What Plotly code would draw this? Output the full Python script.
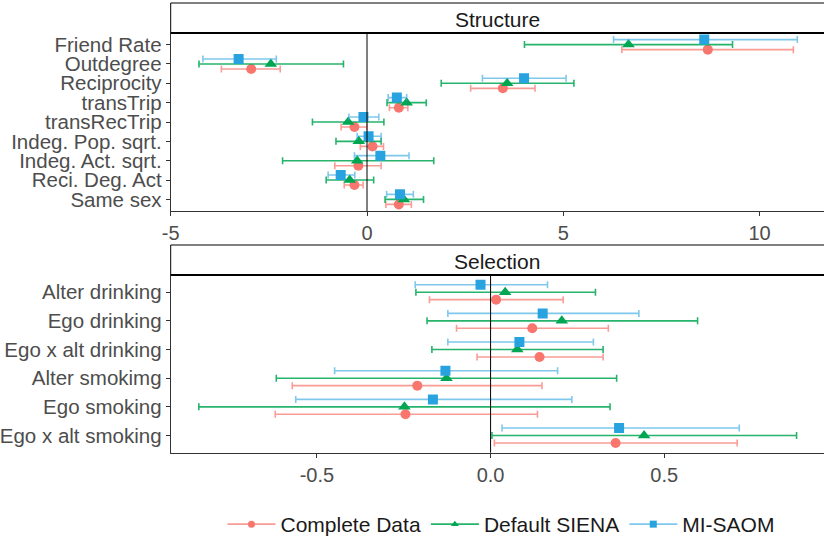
import plotly.graph_objects as go

# ---------------- data ----------------
series_names = ["Complete Data", "Default SIENA", "MI-SAOM"]

structure_cats = ["Friend Rate", "Outdegree", "Reciprocity", "transTrip", "transRecTrip",
                  "Indeg. Pop. sqrt.", "Indeg. Act. sqrt.", "Reci. Deg. Act", "Same sex"]
# Complete Data
s_complete_est = [8.68, -2.95, 3.46, 0.81, -0.32, 0.14, -0.22, -0.32, 0.81]
s_complete_lo = [6.49, -3.71, 2.64, 0.57, -0.66, -0.17, -0.82, -0.58, 0.48]
s_complete_hi = [10.86, -2.21, 4.28, 1.04, 0.00, 0.42, 0.36, -0.10, 1.13]
# Default SIENA
s_siena_est = [6.66, -2.45, 3.57, 1.01, -0.48, -0.21, -0.25, -0.44, 0.94]
s_siena_lo = [4.01, -4.28, 1.89, 0.51, -1.39, -0.79, -2.15, -1.04, 0.46]
s_siena_hi = [9.31, -0.60, 5.27, 1.51, 0.43, 0.36, 1.70, 0.17, 1.44]
# MI-SAOM
s_mi_est = [8.59, -3.27, 4.00, 0.76, -0.09, 0.04, 0.34, -0.67, 0.84]
s_mi_lo = [6.28, -4.18, 2.94, 0.54, -0.46, -0.25, -0.32, -0.99, 0.50]
s_mi_hi = [10.96, -2.31, 5.07, 1.01, 0.30, 0.36, 1.07, -0.31, 1.18]

selection_cats = ["Alter drinking", "Ego drinking", "Ego x alt drinking",
                  "Alter smokimg", "Ego smoking", "Ego x alt smoking"]
# Complete Data
b_complete_est = [0.016, 0.120, 0.141, -0.211, -0.245, 0.360]
b_complete_lo = [-0.176, -0.098, -0.039, -0.571, -0.620, 0.011]
b_complete_hi = [0.209, 0.339, 0.324, 0.148, 0.135, 0.710]
# Default SIENA
b_siena_est = [0.042, 0.205, 0.077, -0.127, -0.248, 0.442]
b_siena_lo = [-0.215, -0.183, -0.169, -0.617, -0.840, 0.004]
b_siena_hi = [0.302, 0.596, 0.324, 0.363, 0.344, 0.881]
# MI-SAOM
b_mi_est = [-0.029, 0.150, 0.083, -0.130, -0.166, 0.370]
b_mi_lo = [-0.217, -0.123, -0.123, -0.449, -0.561, 0.033]
b_mi_hi = [0.164, 0.427, 0.296, 0.193, 0.234, 0.716]

structure_ticks = [-5, 0, 5, 10]
selection_ticks = [-0.5, 0.0, 0.5]

# ---------------- style ----------------
marker_colors = ["#F8766D", "#00A651", "#29A3E0"]
bar_colors = ["rgba(248,118,109,0.72)", "rgba(0,166,81,0.85)", "rgba(41,163,224,0.6)"]
symbols = ["circle", "triangle-up", "square"]
offsets = [0.26, 0.0, -0.26]   # dodge: red bottom, green middle, blue top

W, H = 824, 545
def py(px):
    return 1 - px / H

x_left = 170.7 / W
top_dom = [py(211), py(33)]
bot_dom = [py(452.7), py(275)]

fig = go.Figure()

def add_panel(cats, ests, los, his, xa, ya):
    for k in range(3):
        est, lo, hi = ests[k], los[k], his[k]
        yv = [i + offsets[k] for i in range(len(cats))]
        fig.add_trace(go.Scatter(
            x=est, y=yv, mode="markers", xaxis=xa, yaxis=ya,
            showlegend=False,
            marker=dict(symbol=symbols[k], color=marker_colors[k], size=10 if k != 1 else 11),
            error_x=dict(type="data", symmetric=False,
                         array=[h - e for h, e in zip(hi, est)],
                         arrayminus=[e - l for e, l in zip(est, lo)],
                         color=bar_colors[k], thickness=1.6, width=3.5),
        ))

add_panel(structure_cats,
          [s_complete_est, s_siena_est, s_mi_est],
          [s_complete_lo, s_siena_lo, s_mi_lo],
          [s_complete_hi, s_siena_hi, s_mi_hi], "x", "y")
add_panel(selection_cats,
          [b_complete_est, b_siena_est, b_mi_est],
          [b_complete_lo, b_siena_lo, b_mi_lo],
          [b_complete_hi, b_siena_hi, b_mi_hi], "x2", "y2")

# legend entries (line + marker)
for k in range(3):
    fig.add_trace(go.Scatter(
        x=[None], y=[None], mode="lines+markers", name=series_names[k],
        line=dict(color=bar_colors[k], width=1.6),
        marker=dict(symbol=symbols[k], color=marker_colors[k], size=7),
    ))

tickfont = dict(family="Liberation Sans, Arial, sans-serif", size=20.5, color="#4D4D4D")
xtickfont = dict(family="Liberation Sans, Arial, sans-serif", size=20, color="#4D4D4D")
axis_common = dict(showgrid=False, zeroline=False, showline=True, linecolor="#333333",
                   linewidth=1, ticks="outside", ticklen=4, tickcolor="#333333",
                   automargin=False)

fig.update_layout(
    width=W, height=H,
    margin=dict(l=0, r=0, t=0, b=0),
    paper_bgcolor="white", plot_bgcolor="white",
    font=dict(family="Liberation Sans, Arial, sans-serif"),
    xaxis=dict(domain=[x_left, 1], anchor="y", range=[-5.0, 11.64],
               tickvals=structure_ticks, ticktext=[str(t) for t in structure_ticks],
               tickfont=xtickfont, mirror=True, **axis_common),
    yaxis=dict(domain=top_dom, anchor="x", range=[len(structure_cats) - 1 + 0.6, -0.6],
               tickvals=list(range(len(structure_cats))), ticktext=structure_cats,
               tickfont=tickfont, mirror=False, **axis_common),
    xaxis2=dict(domain=[x_left, 1], anchor="y2", range=[-0.921, 0.960],
                tickvals=selection_ticks, ticktext=["%.1f" % t for t in selection_ticks],
                tickfont=xtickfont, mirror=True, **axis_common),
    yaxis2=dict(domain=bot_dom, anchor="x2", range=[len(selection_cats) - 1 + 0.6, -0.6],
                tickvals=list(range(len(selection_cats))), ticktext=selection_cats,
                tickfont=tickfont, mirror=False, **axis_common),
    legend=dict(orientation="h", x=0.608, xanchor="center", y=0.0, yanchor="bottom",
                font=dict(size=21, color="#1A1A1A"), itemwidth=48, bgcolor="rgba(0,0,0,0)"),
    showlegend=True,
)

shapes = []
# zero lines
for xa, ya in [("x", "y"), ("x2", "y2")]:
    shapes.append(dict(type="line", xref=xa, yref=ya + " domain", x0=0, x1=0, y0=0, y1=1,
                       line=dict(color="black", width=1)))
# strips
for dom, title, top_px in [(top_dom, "Structure", 3), (bot_dom, "Selection", 245)]:
    shapes.append(dict(type="rect", xref="paper", yref="paper", x0=x_left, x1=1.01,
                       y0=dom[1], y1=py(top_px), fillcolor="white",
                       line=dict(color="black", width=1), layer="below"))
    shapes.append(dict(type="line", xref="paper", yref="paper", x0=x_left, x1=1.01,
                       y0=dom[1], y1=dom[1], line=dict(color="black", width=2)))
    fig.add_annotation(text=title, xref="paper", yref="paper",
                       x=(x_left + 1) / 2, y=(dom[1] + py(top_px + 3)) / 2,
                       xanchor="center", yanchor="middle", showarrow=False,
                       font=dict(size=21, color="#1A1A1A"))
fig.update_layout(shapes=shapes)

fig.write_html("out.html")
